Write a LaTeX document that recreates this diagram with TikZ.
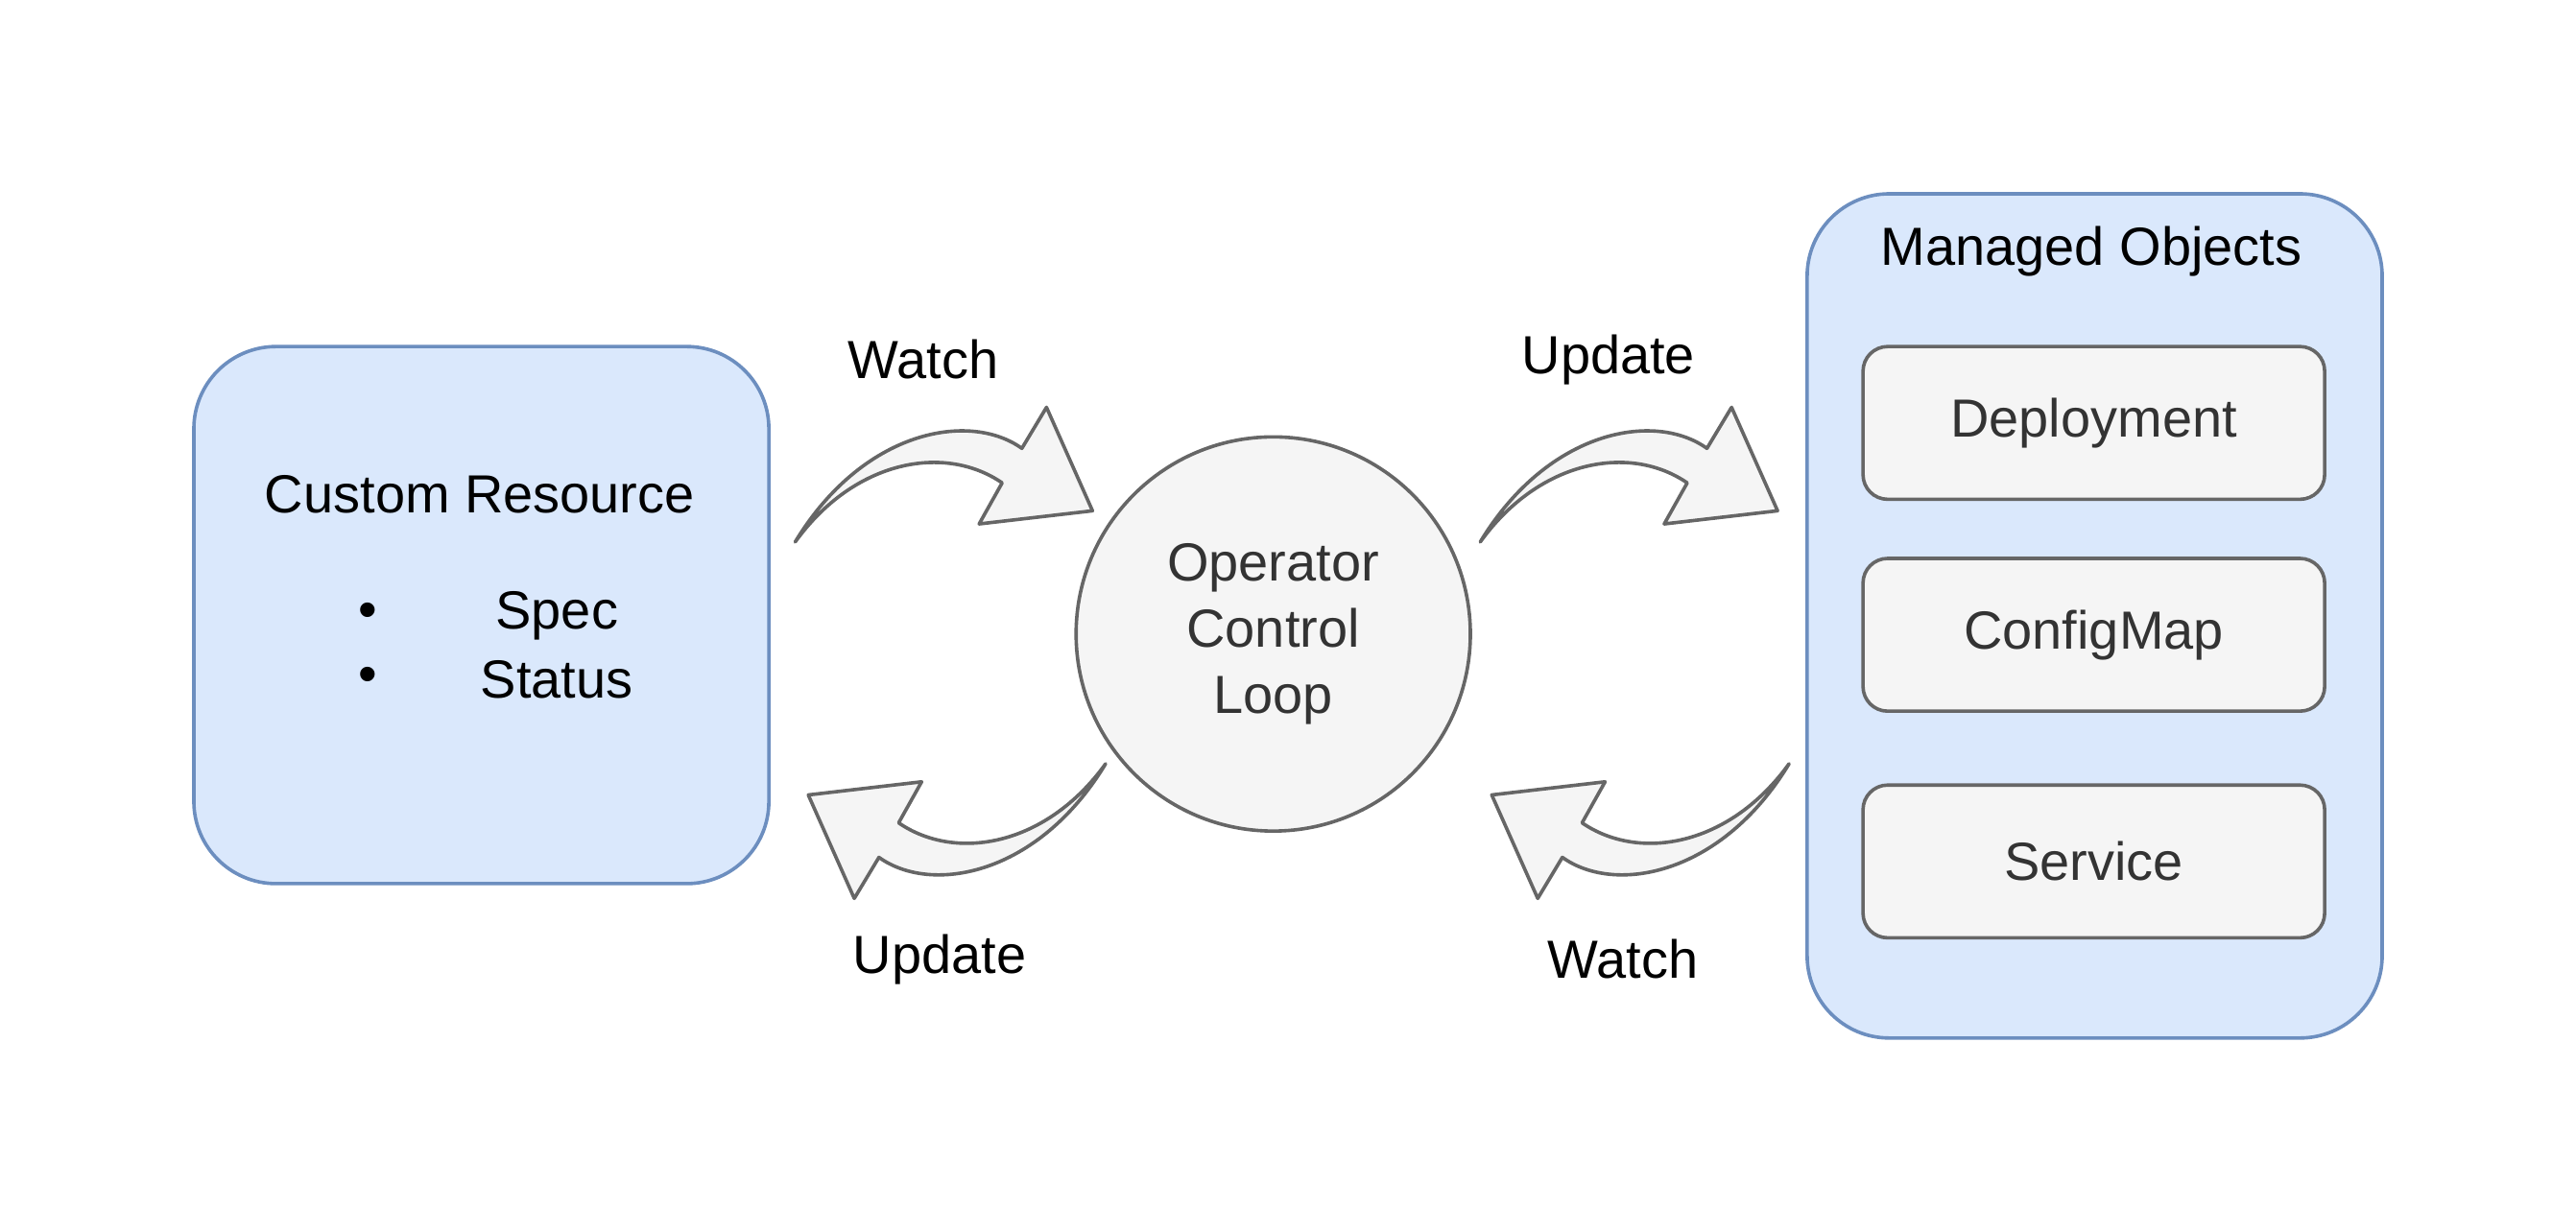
\documentclass[tikz,border=0pt]{standalone}
\usepackage{fontspec}
\setmainfont{Liberation Sans}
\usetikzlibrary{
		calc,
		positioning
	}
\definecolor{boxblue}{HTML}{DAE8FC}
\definecolor{lineblue}{HTML}{6C8EBF}
\definecolor{boxgrey}{HTML}{F5F5F5}
\definecolor{linegrey}{HTML}{666666}
\definecolor{textgrey}{HTML}{333333}
\tikzset{
		>=stealth,
		group/.style={draw=lineblue, fill=boxblue, line width=1.2pt, rounded corners=50*0.02cm},
		item/.style={draw=linegrey, fill=boxgrey, line width=1.2pt, rounded corners=0.3cm,
			minimum width=281*0.02cm, minimum height=93*0.02cm, text=textgrey},
		flow/.style={draw=linegrey, fill=boxgrey, line width=1.2pt, line join=round},
		lbl/.style={font=\fontsize{18.6}{22.8}\selectfont}
	}
% one curved flex arrow, drawn from its tail
\newcommand{\bentarrow}[1]{%
	\begin{scope}[#1]
		\filldraw[flow] (484,330) .. controls (525,262) and (590,250) .. (622,273)
			-- (637,248) -- (665,311) -- (596,319) -- (610,294)
			.. controls (575,270) and (520,280) .. (484,330) -- cycle;
	\end{scope}}

\begin{document}
\begin{tikzpicture}[x=0.02cm, y=-0.02cm]
        \useasboundingbox (0,0) rectangle (1568,750);

        % the custom resource
        \filldraw[group] (118,211) rectangle (468,538);
        \node[lbl] (cr) at (292,301) {Custom Resource};
        \node[lbl] (spec) at (339,375) {Spec};
        \node[lbl] (status) at (339,414) {Status};
        \node[lbl] (b1) at (224,375) {\textbullet};
        \node[lbl] (b2) at (224,414) {\textbullet};

        % the operator
        \node[circle, draw=linegrey, fill=boxgrey, line width=1.2pt, minimum size=240*0.02cm,
              text=textgrey, align=center, lbl] (loop) at (775,386)
              {Operator\\Control\\Loop};

        % the managed objects
        \filldraw[group] (1100,118) rectangle (1450,632);
        \node[lbl] (mo) at (1273,153) {Managed Objects};
        \node[item, lbl] (deploy) at (1274.5,257.5) {Deployment};
        \node[item, lbl] (cm) at (1274.5,386.5) {ConfigMap};
        \node[item, lbl] (svc) at (1274.5,524.5) {Service};

        % the arrows
        \bentarrow{}
        \bentarrow{shift={(417,0)}}
        \bentarrow{rotate around={180:(578.5,397.5)}}
        \bentarrow{shift={(416,0)}, rotate around={180:(578.5,397.5)}}

        % the texts
        \node[lbl] (w1) at (562,219) {Watch};
        \node[lbl] (u1) at (979,219) {Update};
        \node[lbl] (u2) at (572,584) {Update};
        \node[lbl] (w2) at (988,584) {Watch};
\end{tikzpicture}
\end{document}
